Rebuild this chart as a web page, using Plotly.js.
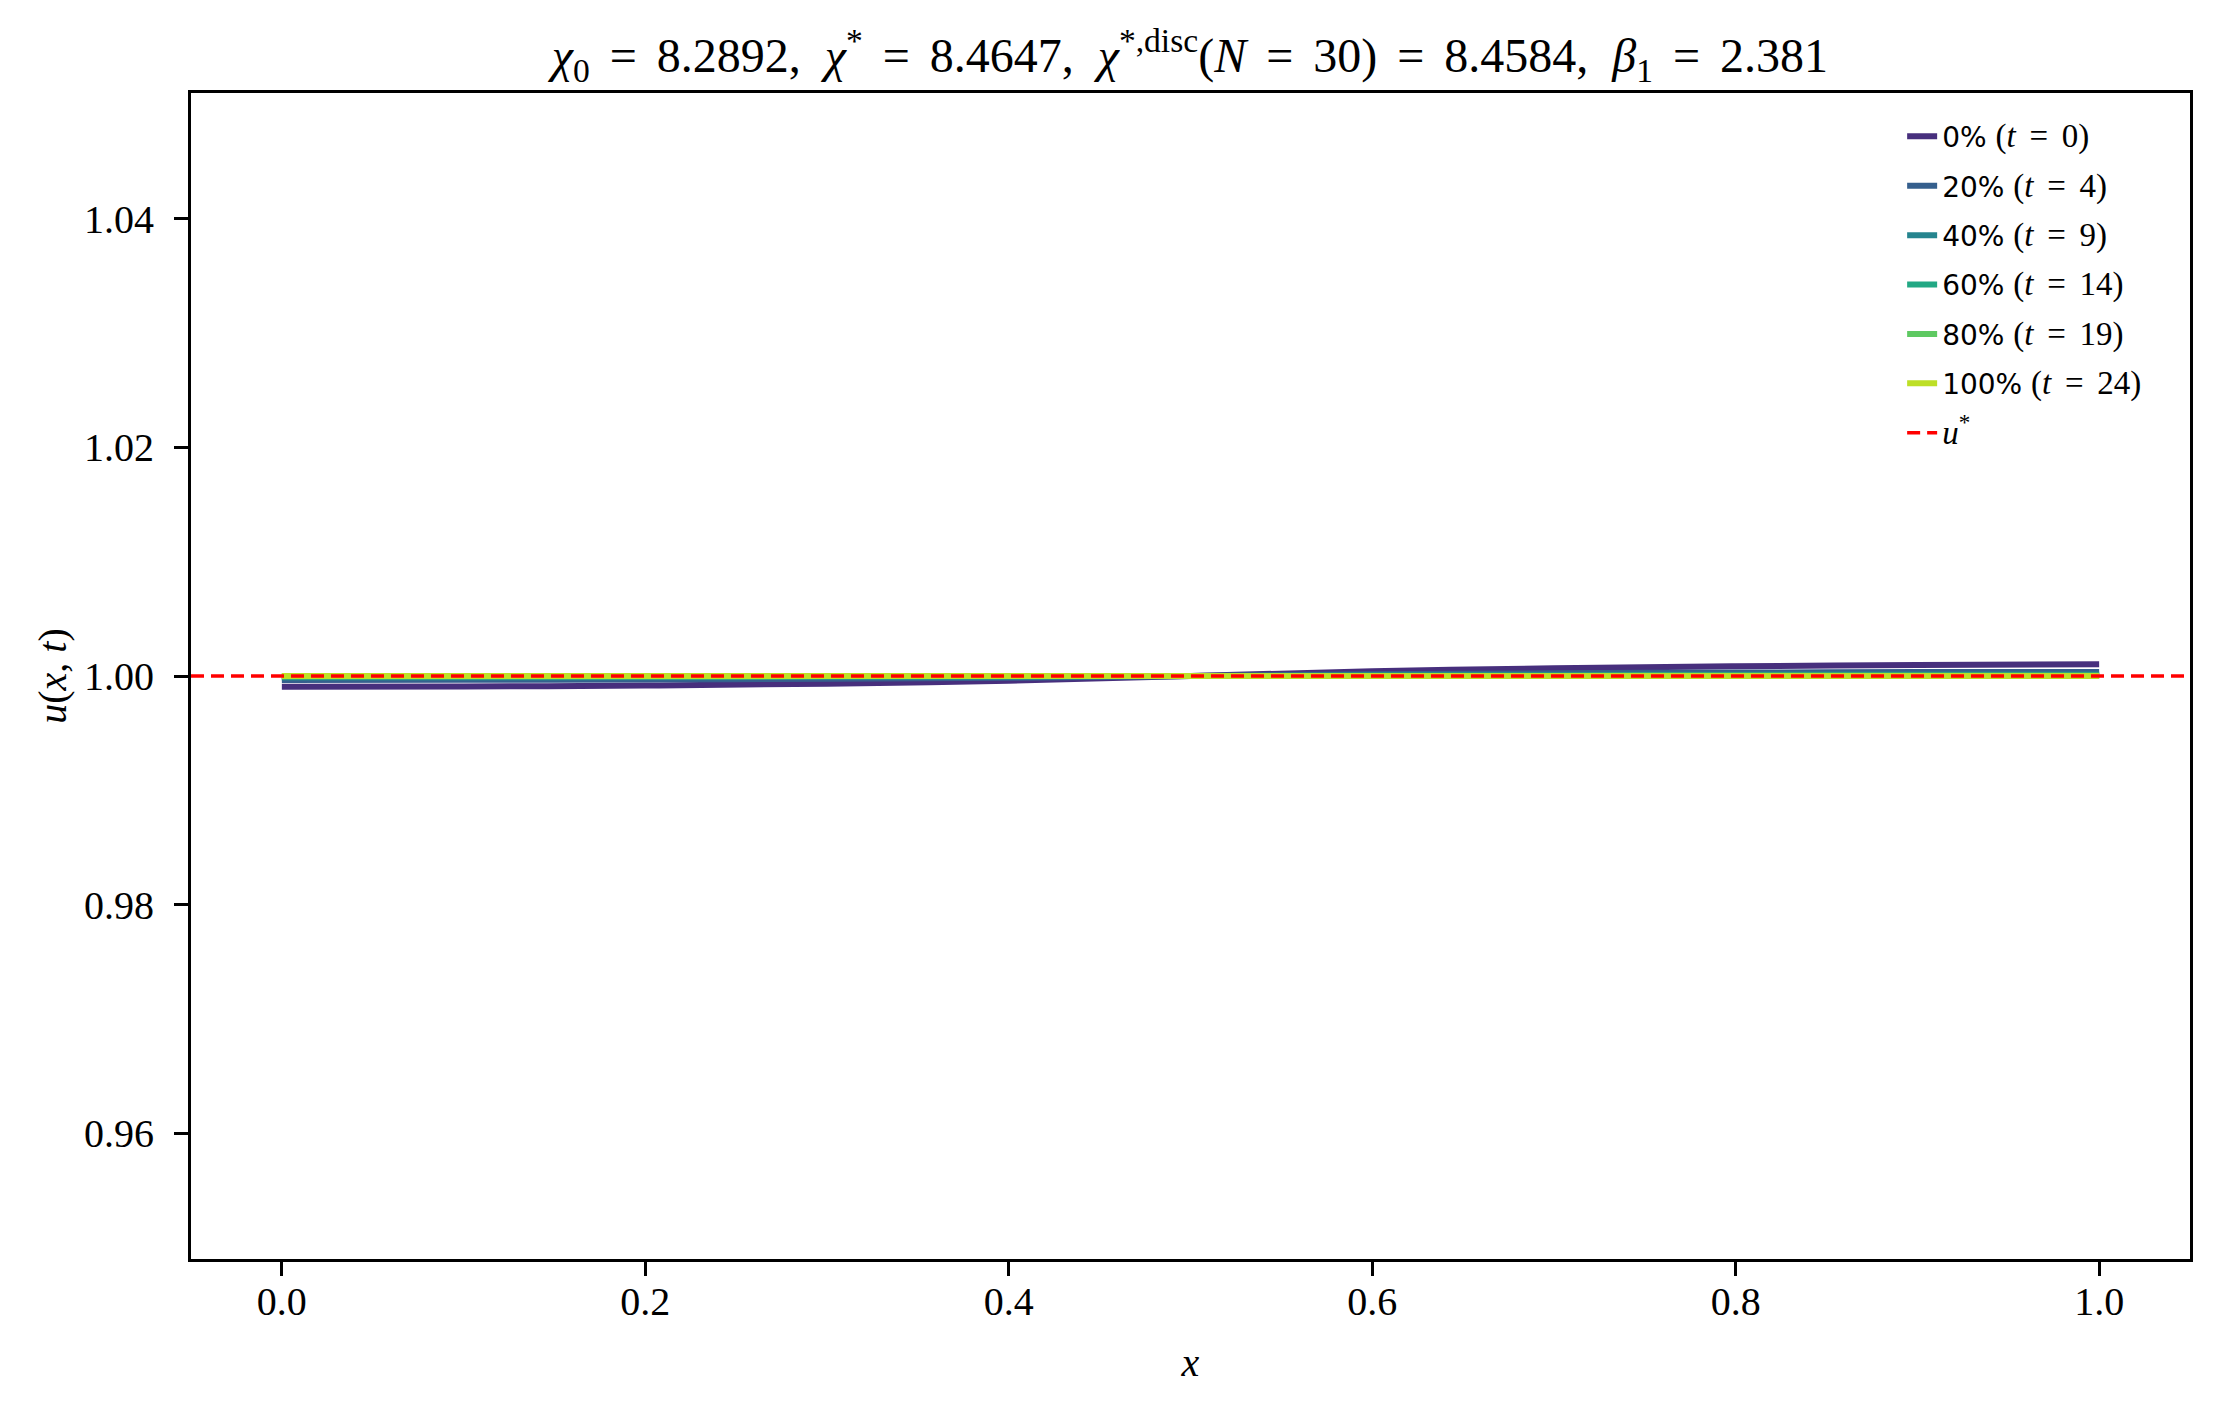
<!DOCTYPE html>
<html>
<head>
<meta charset="utf-8">
<script src="https://cdn.plot.ly/plotly-3.0.1.min.js"></script>
<style>
  html, body { margin: 0; padding: 0; background: #fff; }
  #chart { width: 2220px; height: 1409px; }
</style>
</head>
<body>
<div id="chart"></div>
<script>
'use strict';

// grid points in x
let xGrid = [0.0, 0.1, 0.2, 0.3, 0.4, 0.5, 0.6, 0.7, 0.8, 0.9, 1.0];

// u(x,t) snapshots
let u_t0  = [0.99906, 0.99908, 0.99917, 0.99933, 0.99958, 1.00000, 1.00042, 1.00068, 1.00085, 1.00097, 1.00102];
let u_t4  = [0.99966, 0.99967, 0.99970, 0.99976, 0.99985, 1.00000, 1.00015, 1.00024, 1.00030, 1.00034, 1.00036];
let u_t9  = [0.99987, 0.99987, 0.99989, 0.99991, 0.99994, 1.00000, 1.00006, 1.00009, 1.00012, 1.00013, 1.00014];
let u_t14 = [0.99995, 0.99995, 0.99996, 0.99997, 0.99998, 1.00000, 1.00002, 1.00003, 1.00004, 1.00005, 1.00005];
let u_t19 = [0.99998, 0.99998, 0.99998, 0.99999, 0.99999, 1.00000, 1.00001, 1.00001, 1.00002, 1.00002, 1.00002];
let u_t24 = [0.99999, 0.99999, 0.99999, 1.00000, 1.00000, 1.00000, 1.00000, 1.00000, 1.00001, 1.00001, 1.00001];

let snapshots = [u_t0, u_t4, u_t9, u_t14, u_t19, u_t24];
let percents = ['0%', '20%', '40%', '60%', '80%', '100%'];
let times = [0, 4, 9, 14, 19, 24];
let colors = ['#472f7d', '#355f8d', '#25848e', '#22a884', '#5ec962', '#bddf26'];

let uStar = 1.0;
let xRange = [-0.05, 1.05];
let yRange = [0.949, 1.051];

let serif = 'Liberation Serif, Times New Roman, serif';
// wider spacing around "=" like TeX math
let EQ = '\u2006 = \u2006';

function legendName(pct, t) {
    return pct + ' <span style="font-family:Liberation Serif;font-size:33px">(<i>t</i>' + EQ + t + ')</span>';
}

let data = [];
for (let i in snapshots) {
    data.push({
        x: xGrid,
        y: snapshots[i],
        name: legendName(percents[i], times[i]),
        legendgroup: 'g' + i,
        type: 'scatter',
        mode: 'lines',
        line: { color: colors[i], width: 6, shape: 'spline' }
    });
}

// reference level u*
data.push({
    x: xRange,
    y: [uStar, uStar],
    name: '<span style="font-family:Liberation Serif;font-size:33px"><i>u</i><sup>*</sup></span>',
    legendgroup: 'ustar',
    type: 'scatter',
    mode: 'lines',
    line: { color: '#ff0000', width: 3.5, dash: '13px,7px' }
});

let axisCommon = {
    showline: true,
    mirror: true,
    linecolor: '#000',
    linewidth: 3,
    showgrid: false,
    zeroline: false,
    ticks: 'outside',
    ticklen: 14,
    tickwidth: 3,
    tickcolor: '#000',
    tickfont: { family: serif, size: 40, color: '#000' }
};

let titleText = '<i>χ</i><sub>0</sub>' + EQ + '8.2892,&nbsp;&nbsp;' +
    '<i>χ</i><sup>*</sup>' + EQ + '8.4647,&nbsp;&nbsp;' +
    '<i>χ</i><sup>*,disc</sup>(<i>N</i>' + EQ + '30)' + EQ + '8.4584,&nbsp;&nbsp;' +
    '<i>β</i><sub>1</sub>' + EQ + '2.381';

let layout = {
    width: 2220,
    height: 1409,
    paper_bgcolor: '#fff',
    plot_bgcolor: '#fff',
    margin: { l: 191, r: 30, t: 93, b: 150 },
    title: {
        text: titleText,
        font: { family: serif, size: 48, color: '#000' },
        x: 0.536,
        xref: 'container',
        xanchor: 'center',
        y: 0.961,
        yref: 'container',
        yanchor: 'middle'
    },
    xaxis: Object.assign({}, axisCommon, {
        range: xRange,
        tickvals: [0, 0.2, 0.4, 0.6, 0.8, 1.0],
        tickformat: '.1f',
        ticklabelstandoff: -9,
        title: { text: '<i>x</i>', font: { family: serif, size: 40, color: '#000' }, standoff: 25 }
    }),
    yaxis: Object.assign({}, axisCommon, {
        range: yRange,
        tickvals: [0.96, 0.98, 1.00, 1.02, 1.04],
        tickformat: '.2f',
        ticklabelstandoff: 12,
        title: { text: '<i>u</i>(<i>x</i>, <i>t</i>)', font: { family: serif, size: 40, color: '#000' }, standoff: 6 }
    }),
    legend: {
        x: 0.856,
        xanchor: 'left',
        y: 0.984,
        yanchor: 'top',
        bgcolor: 'rgba(255,255,255,0)',
        borderwidth: 0,
        font: { family: 'DejaVu Sans, sans-serif', size: 28, color: '#000' },
        tracegroupgap: 10
    },
    showlegend: true
};

let config = {
    displaylogo: false,
    displayModeBar: false,
    staticPlot: true
};

Plotly.newPlot('chart', data, layout, config);
</script>
</body>
</html>
